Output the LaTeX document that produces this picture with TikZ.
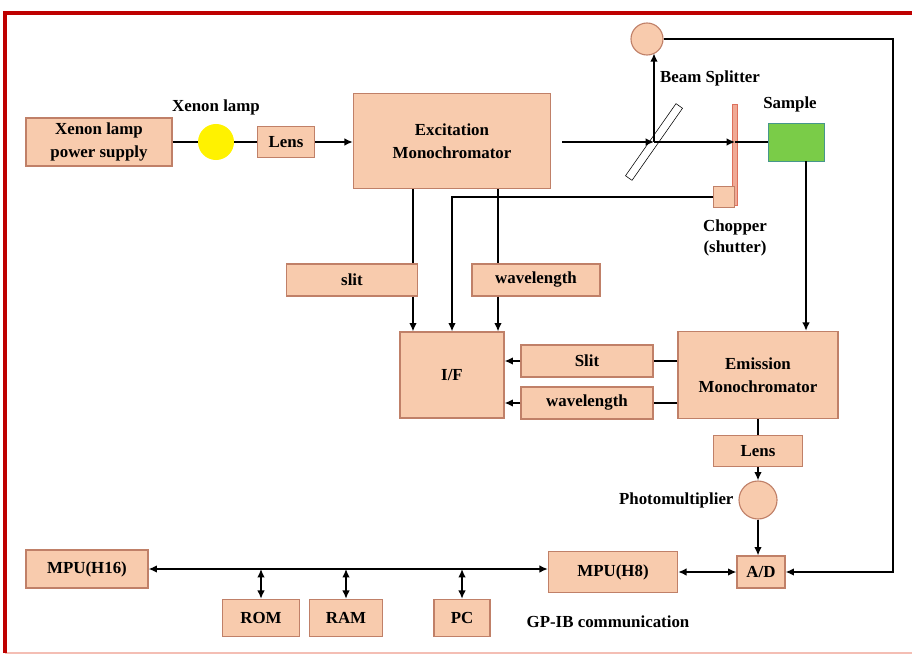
\documentclass[tikz,border=0pt]{standalone}
\usepackage{fontspec}
\setmainfont{Liberation Serif}
\usepackage{tikz}
\usetikzlibrary{positioning, arrows.meta}
\usepackage{xcolor}

\definecolor{boxfill}{RGB}{248,203,173}
\definecolor{boxedge}{RGB}{192,128,104}
\definecolor{samplefill}{RGB}{122,204,72}
\definecolor{sampleedge}{RGB}{70,150,140}
\definecolor{chopfill}{RGB}{240,170,150}
\definecolor{chopedge}{RGB}{222,112,92}
\definecolor{framered}{RGB}{190,0,0}
\definecolor{framepink}{RGB}{244,190,180}

\begin{document}
\begin{tikzpicture}[
        x=0.025cm, y=-0.025cm,
        block/.style={
            rectangle,
            draw=boxedge,
            fill=boxfill,
            thick,
            align=center,
            inner sep=0pt,
            font=\bfseries\fontsize{12}{16}\selectfont
        },
        disc/.style={
            circle,
            draw=boxedge,
            fill=boxfill,
            thick,
            inner sep=0pt
        },
        label/.style={
            align=center,
            font=\bfseries\fontsize{12}{15}\selectfont
        },
        line/.style={
            line width=1.1pt
        },
        arrow/.style={
            -{Latex[length=2.1mm,width=1.9mm]},
            line width=1.1pt
        },
        darrow/.style={
            {Latex[length=2.1mm,width=1.9mm]}-{Latex[length=2.1mm,width=1.9mm]},
            line width=1.1pt
        }
    ]

        \useasboundingbox (0,0) rectangle (912,656);
        \draw[framepink, line width=1.5pt] (5,653) -- (912,653);
        \draw[framered, line width=2.2pt] (5,653) -- (5,13) -- (912,13);

        % source side
        \node[block, minimum width=3.65cm, minimum height=1.2cm] (supply) at (99,142) {Xenon lamp\\power supply};
        \node[circle, fill=yellow, minimum size=0.9cm, inner sep=0pt] (lamp) at (216,142) {};
        \node[label, above=0.1cm of lamp] (lamplbl) {Xenon lamp};
        \node[block, minimum width=1.43cm, minimum height=0.78cm] (lens1) at (286,142) {Lens};
        \node[block, minimum width=4.93cm, minimum height=2.38cm] (exc) at (452,141) {Excitation\\Monochromator};

        % optics
        \coordinate (beam) at (562,142);
        \node[draw, thin, rotate=55, minimum width=2.2cm, minimum height=0.2cm, inner sep=0pt] (bs) at (654,142) {};
        \node[disc, minimum size=0.8cm] (det) at (647,39) {};
        \node[label] (bslbl) at (710,78) {Beam Splitter};
        \node[rectangle, draw=chopedge, fill=chopfill, minimum width=0.13cm, minimum height=2.53cm, inner sep=0pt] (chop) at (735,155) {};
        \node[rectangle, draw=boxedge, fill=boxfill, minimum size=0.53cm, inner sep=0pt] (chopsq) at (724,197) {};
        \node[label] (choplbl) at (735,238) {Chopper\\(shutter)};
        \node[rectangle, draw=sampleedge, fill=samplefill, minimum width=1.4cm, minimum height=0.95cm, inner sep=0pt] (sample) at (796,142) {};
        \node[label] (samplelbl) at (790,104) {Sample};

        % interface
        \node[block, minimum width=3.28cm, minimum height=0.8cm] (slit1) at (352,280) {slit};
        \node[block, minimum width=3.2cm, minimum height=0.8cm] (wave1) at (536,280) {wavelength};
        \node[block, minimum width=2.6cm, minimum height=2.15cm] (iface) at (452,375) {I/F};
        \node[block, minimum width=3.3cm, minimum height=0.8cm] (slit2) at (587,361) {Slit};
        \node[block, minimum width=3.3cm, minimum height=0.8cm] (wave2) at (587,403) {wavelength};
        \node[block, minimum width=4.0cm, minimum height=2.18cm] (emi) at (758,375) {Emission\\Monochromator};

        % detection
        \node[block, minimum width=2.23cm, minimum height=0.78cm] (lens2) at (758,451) {Lens};
        \node[disc, minimum size=0.95cm] (pmt) at (758,500) {};
        \node[label, left=0cm of pmt] (pmtlbl) {Photomultiplier};
        \node[block, minimum width=1.2cm, minimum height=0.8cm] (adc) at (761,572) {A/D};

        % computer bus
        \node[block, minimum width=3.23cm, minimum height=1.03cm] (mpu8) at (613,572) {MPU(H8)};
        \node[block, minimum width=3.05cm, minimum height=0.95cm] (mpu16) at (87,569) {MPU(H16)};
        \node[block, minimum width=1.93cm, minimum height=0.93cm] (rom) at (261,618) {ROM};
        \node[block, minimum width=1.83cm, minimum height=0.93cm] (ram) at (346,618) {RAM};
        \node[block, minimum width=1.4cm, minimum height=0.93cm] (pc) at (462,618) {PC};
        \node[label] (gpib) at (608,622) {GP-IB communication};

        \coordinate (slitx) at ([xshift=-0.975cm]exc.south);
        \coordinate (wavex) at ([xshift=1.15cm]exc.south);
        \coordinate (samplex) at ([xshift=0.25cm]sample.south);
        \coordinate (corner) at (893,39);

        \draw[line] (supply.east) -- (lamp.west);
        \draw[line] (lamp.east) -- (lens1.west);
        \draw[arrow] (lens1.east) -- (exc.west |- lens1.east);

        \draw[arrow] (beam) -- (bs.center);
        \draw[arrow] (bs.center) -- (chop.center |- bs.center);
        \draw[line] (chop.center |- bs.center) -- (sample.west |- bs.center);
        \draw[arrow] (bs.center) -- (bs.center |- det.-60);
        \draw[arrow] (det.east) -- (corner) |- (adc.east);

        \draw[line] (slitx) -- (slitx |- slit1.north);
        \draw[arrow] (slitx |- slit1.south) -- (slitx |- iface.north);
        \draw[line] (wavex) -- (wavex |- wave1.north);
        \draw[arrow] (wavex |- wave1.south) -- (wavex |- iface.north);
        \draw[arrow] (chopsq.west) -| (iface.north);

        \draw[arrow] (samplex) -- (samplex |- emi.north);
        \draw[line] (emi.west |- slit2.east) -- (slit2.east);
        \draw[line] (emi.west |- wave2.east) -- (wave2.east);
        \draw[arrow] (slit2.west) -- (iface.east |- slit2.west);
        \draw[arrow] (wave2.west) -- (iface.east |- wave2.west);

        \draw[line] (emi.south) -- (lens2.north);
        \draw[arrow] (lens2.south) -- (pmt.north);
        \draw[arrow] (pmt.south) -- (pmt.south |- adc.north);

        \draw[darrow] (mpu8.east) -- (adc.west);
        \draw[darrow] (mpu16.east) -- (mpu8.west |- mpu16.east);
        \draw[darrow] (rom.north |- mpu16.east) -- (rom.north);
        \draw[darrow] (ram.north |- mpu16.east) -- (ram.north);
        \draw[darrow] (pc.north |- mpu16.east) -- (pc.north);

    \end{tikzpicture}
\end{document}
